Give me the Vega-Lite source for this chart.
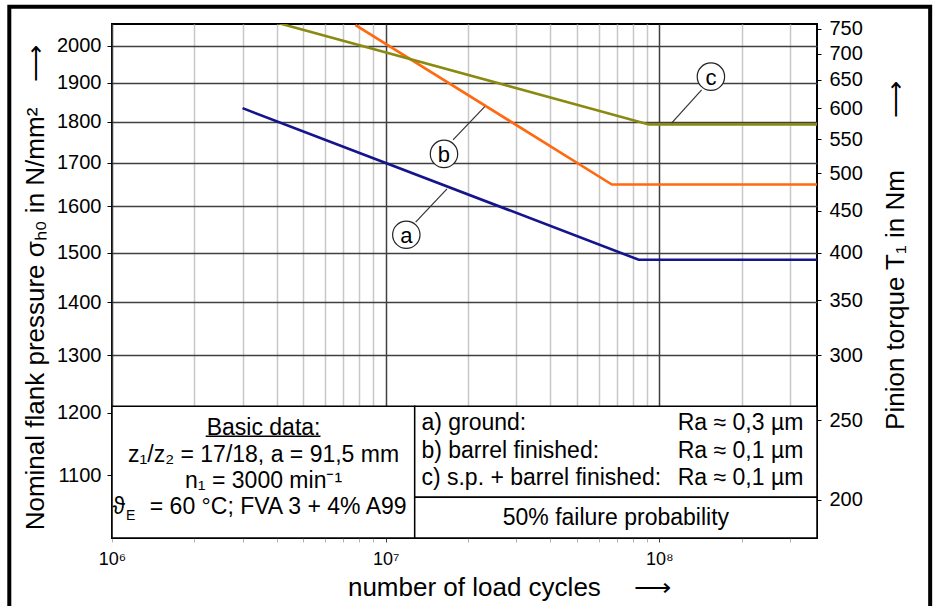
{
  "$schema": "https://vega.github.io/schema/vega-lite/v6.json",
  "width": 705,
  "height": 514,
  "autosize": {"type": "none"},
  "padding": {"left": 112, "top": 24, "right": 121, "bottom": 68},
  "background": "white",
  "config": {
    "font": "Liberation Sans",
    "view": {"stroke": "black", "strokeWidth": 2},
    "axis": {"domain": false, "labelFont": "Liberation Sans", "titleFont": "Liberation Sans", "labelColor": "black", "titleColor": "black", "titleFontWeight": "normal", "tickColor": "black"}
  },
  "datasets": {
    "lines": [
      {"s": "a", "x": 3.0e6, "y": 1834}, {"s": "a", "x": 8.41e7, "y": 1485}, {"s": "a", "x": 3.77e8, "y": 1485},
      {"s": "b", "x": 7.76e6, "y": 2059}, {"s": "b", "x": 6.71e7, "y": 1649}, {"s": "b", "x": 3.77e8, "y": 1649},
      {"s": "c", "x": 4.0e6, "y": 2066}, {"s": "c", "x": 9.16e7, "y": 1793}, {"s": "c", "x": 3.77e8, "y": 1793}
    ],
    "leaders": [
      {"x": 1.287e7, "y": 1564.8, "x2": 1.676e7, "y2": 1639.1},
      {"x": 1.763e7, "y": 1754.8, "x2": 2.302e7, "y2": 1837.9},
      {"x": 1.428e8, "y": 1881.2, "x2": 1.109e8, "y2": 1796}
    ],
    "labels": [
      {"x": 1.19e7, "y": 1537.6, "t": "a"},
      {"x": 1.634e7, "y": 1720.8, "t": "b"},
      {"x": 1.544e8, "y": 1916.2, "t": "c"}
    ],
    "boxes": [
      {"x": 1e6, "x2": 1.277e7, "y": 1008, "y2": 1211},
      {"x": 1.277e7, "x2": 3.77e8, "y": 1067, "y2": 1211},
      {"x": 1.277e7, "x2": 3.77e8, "y": 1008, "y2": 1067}
    ],
    "centered": [
      {"x": 3.58e6, "y": 1175.4, "t": "Basic data:"},
      {"x": 3.58e6, "y": 1132, "t": "z₁/z₂ = 17/18, a = 91,5 mm"},
      {"x": 3.58e6, "y": 1090.8, "t": "n₁ = 3000 min⁻¹"},
      {"x": 6.94e7, "y": 1036.5, "t": "50% failure probability"}
    ],
    "rightal": [
      {"x": 1.193e7, "y": 1051.8, "t": "= 60 °C; FVA 3 + 4% A99"},
      {"x": 3.36e8, "y": 1183.2, "t": "Ra ≈ 0,3 µm"},
      {"x": 3.36e8, "y": 1138.5, "t": "Ra ≈ 0,1 µm"},
      {"x": 3.36e8, "y": 1096, "t": "Ra ≈ 0,1 µm"}
    ],
    "leftal": [
      {"x": 1.0034e6, "y": 1051.8, "t": "ϑ"},
      {"x": 1.351e7, "y": 1183.2, "t": "a) ground:"},
      {"x": 1.351e7, "y": 1138.5, "t": "b) barrel finished:"},
      {"x": 1.351e7, "y": 1096, "t": "c) s.p. + barrel finished:"}
    ],
    "small": [
      {"x": 1.125e6, "y": 1038.8, "t": "E"}
    ],
    "underline": [
      {"x": 2.2e6, "x2": 5.78e6, "y": 1161.3}
    ],
    "frame": [
      {"x": 421400, "x2": 977000000, "y": 2112, "y2": 910}
    ],
    "torque": [
      {"T": 200}, {"T": 250}, {"T": 300}, {"T": 350}, {"T": 400}, {"T": 450}, {"T": 500}, {"T": 550}, {"T": 600}, {"T": 650}, {"T": 700}, {"T": 750}
    ]
  },
  "layer": [
    {
      "encoding": {
        "x": {
          "field": "x", "type": "quantitative",
          "scale": {"type": "log", "domain": [1e6, 3.77e8], "nice": false},
          "axis": {
            "values": [1e6, 2e6, 3e6, 4e6, 5e6, 6e6, 7e6, 8e6, 9e6, 1e7, 2e7, 3e7, 4e7, 5e7, 6e7, 7e7, 8e7, 9e7, 1e8, 2e8, 3e8],
            "labelExpr": "datum.value == 1e6 ? '10⁶' : datum.value == 1e7 ? '10⁷' : datum.value == 1e8 ? '10⁸' : ''",
            "labelOverlap": false,
            "labelFlush": false,
            "grid": true,
            "gridColor": {"condition": {"test": "datum.value == 1e6 || datum.value == 1e7 || datum.value == 1e8", "value": "#404040"}, "value": "#c8c8c8"},
            "gridWidth": 1.5,
            "tickSize": 4,
            "tickColor": {"condition": {"test": "datum.value == 1e7 || datum.value == 1e8", "value": "#404040"}, "value": "#b0b0b0"},
            "labelFontSize": 18,
            "labelPadding": 8,
            "title": "number of load cycles \u2003⟶",
            "titleFontSize": 26,
            "titlePadding": 6,
            "titleX": 397
          }
        },
        "y": {
          "field": "y", "type": "quantitative",
          "scale": {"type": "log", "domain": [1008, 2062], "nice": false},
          "axis": {
            "values": [1100, 1200, 1300, 1400, 1500, 1600, 1700, 1800, 1900, 2000],
            "format": "d",
            "grid": true,
            "gridColor": "#404040",
            "gridWidth": 1.5,
            "tickSize": 5,
            "labelFontSize": 20,
            "labelPadding": 6,
            "title": "Nominal flank pressure σₕ₀ in N/mm²\u2003⟶",
            "titleFontSize": 26,
            "titlePadding": 8,
            "titleY": 263
          }
        }
      },
      "layer": [
        {
          "data": {"name": "lines"},
          "mark": {"type": "line", "strokeWidth": 2.6, "clip": true},
          "encoding": {
            "color": {"field": "s", "type": "nominal", "scale": {"domain": ["a", "b", "c"], "range": ["#14148c", "#ff6a10", "#8a8a12"]}, "legend": null}
          }
        },
        {
          "data": {"name": "leaders"},
          "mark": {"type": "rule", "stroke": "#333333", "strokeWidth": 1.2},
          "encoding": {"x2": {"field": "x2"}, "y2": {"field": "y2"}}
        },
        {
          "data": {"name": "labels"},
          "mark": {"type": "point", "shape": "circle", "size": 750, "filled": true, "fill": "white", "stroke": "#222222", "strokeWidth": 1.2, "opacity": 1},
          "encoding": {}
        },
        {
          "data": {"name": "labels"},
          "mark": {"type": "text", "fontSize": 22, "align": "center", "baseline": "middle", "dy": 1, "color": "black"},
          "encoding": {"text": {"field": "t"}}
        },
        {
          "data": {"name": "boxes"},
          "mark": {"type": "rect", "fill": "white", "stroke": "black", "strokeWidth": 1.5},
          "encoding": {"x2": {"field": "x2"}, "y2": {"field": "y2"}}
        },
        {
          "data": {"name": "centered"},
          "mark": {"type": "text", "fontSize": 23, "align": "center", "baseline": "middle", "color": "black"},
          "encoding": {"text": {"field": "t"}}
        },
        {
          "data": {"name": "rightal"},
          "mark": {"type": "text", "fontSize": 23, "align": "right", "baseline": "middle", "color": "black"},
          "encoding": {"text": {"field": "t"}}
        },
        {
          "data": {"name": "leftal"},
          "mark": {"type": "text", "fontSize": 23, "align": "left", "baseline": "middle", "color": "black"},
          "encoding": {"text": {"field": "t"}}
        },
        {
          "data": {"name": "small"},
          "mark": {"type": "text", "fontSize": 14, "align": "left", "baseline": "middle", "color": "black"},
          "encoding": {"text": {"field": "t"}}
        },
        {
          "data": {"name": "underline"},
          "mark": {"type": "rule", "stroke": "black", "strokeWidth": 1.5},
          "encoding": {"x2": {"field": "x2"}}
        },
        {
          "data": {"name": "frame"},
          "mark": {"type": "rect", "fill": null, "fillOpacity": 0, "stroke": "black", "strokeWidth": 4, "clip": false},
          "encoding": {"x2": {"field": "x2"}, "y2": {"field": "y2"}}
        }
      ]
    },
    {
      "data": {"name": "torque"},
      "mark": {"type": "point", "opacity": 0},
      "encoding": {
        "y": {
          "field": "T", "type": "quantitative",
          "scale": {"type": "log", "domain": [179.5, 760.6], "nice": false},
          "axis": {
            "orient": "right",
            "values": [200, 250, 300, 350, 400, 450, 500, 550, 600, 650, 700, 750],
            "format": "d",
            "grid": false,
            "tickSize": 4,
            "labelFontSize": 20,
            "labelPadding": 8,
            "title": "Pinion torque T₁ in Nm\u2003\u2003⟶",
            "titleFontSize": 26,
            "titleAngle": 270,
            "titleBaseline": "top",
            "titlePadding": 20,
            "titleY": 231
          }
        }
      }
    }
  ],
  "resolve": {"scale": {"y": "independent"}}
}
